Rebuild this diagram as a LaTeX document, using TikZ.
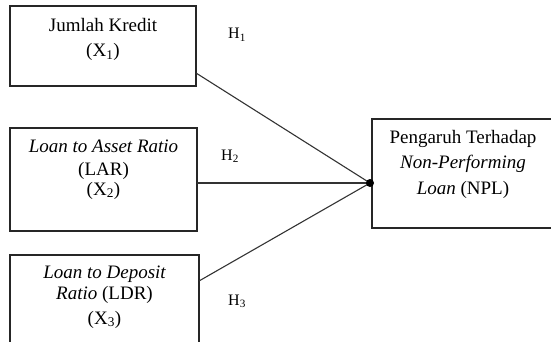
\documentclass[tikz,border=0pt]{standalone}
\usepackage{fontspec}
\setmainfont{Liberation Serif}
\begin{document}
\begin{tikzpicture}[x=1pt,y=-1pt,
  varbox/.style={draw=black!85,line width=1.1pt},
  txt/.style={anchor=base,inner sep=0pt,font=\fontsize{19}{22}\selectfont},
  hyp/.style={anchor=base west,inner sep=0pt,font=\fontsize{16}{18}\selectfont},
  link/.style={draw=black!80,line width=1.1pt}]
\useasboundingbox (0,0) rectangle (551,342);
\clip (0,0) rectangle (551,342);

% variable boxes
\draw[varbox] (10,6) rectangle (196,86);
\draw[varbox] (10,128) rectangle (197,231);
\draw[varbox] (10,255) rectangle (199,360);
\draw[varbox] (372,119) rectangle (570,228);

% box texts
\node[txt] (x1a) at (103,32) {Jumlah Kredit};
\node[txt] (x1b) at (103,57) {(X\textsubscript{1})};

\node[txt] (x2a) at (103.5,152) {\itshape Loan to Asset Ratio};
\node[txt] (x2b) at (103.5,175) {(LAR)};
\node[txt] (x2c) at (103.5,195) {(X\textsubscript{2})};

\node[txt] (x3a) at (104.5,278) {\itshape Loan to Deposit};
\node[txt] (x3b) at (104.5,299) {\textit{Ratio} (LDR)};
\node[txt] (x3c) at (104.5,324) {(X\textsubscript{3})};

\node[txt] (ya) at (463,143) {Pengaruh Terhadap};
\node[txt] (yb) at (463,168) {\itshape Non-Performing};
\node[txt] (yc) at (463,194) {\textit{Loan} (NPL)};

% connector ends
\coordinate (p1) at (196,73);
\coordinate (p2) at (197,183);
\coordinate (p3) at (199,281);
\coordinate (hub) at (370,183);

\draw[link] (p1) -- (hub);
\draw[link] (p2) -- (hub);
\draw[link] (p3) -- (hub);
\fill (hub) circle (4);

% hypothesis labels
\node[hyp] (h1) at (228,39) {H\textsubscript{1}};
\node[hyp] (h2) at (221,160) {H\textsubscript{2}};
\node[hyp] (h3) at (228,305) {H\textsubscript{3}};
\end{tikzpicture}
\end{document}
